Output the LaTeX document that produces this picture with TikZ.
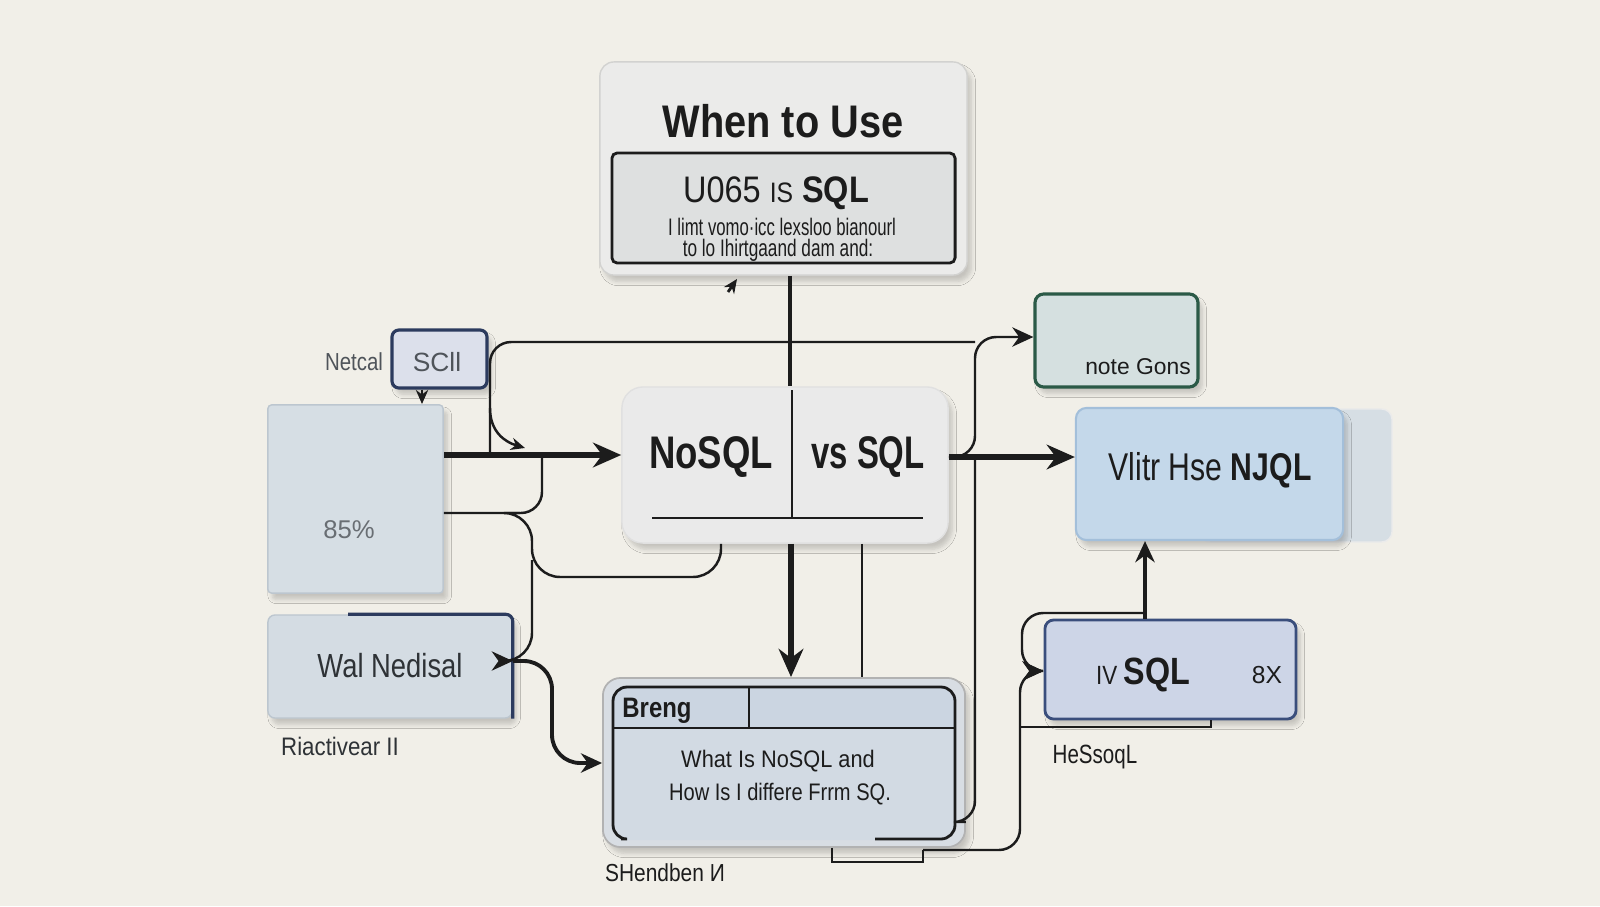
\documentclass[tikz,border=0pt]{standalone}
\usepackage{fontspec}
\setmainfont{Liberation Sans}
\usetikzlibrary{arrows.meta,shadows.blur}
\definecolor{bg}{HTML}{F1EFE8}
\definecolor{lc}{HTML}{1C1C1C}
\definecolor{topfill}{HTML}{EBEBEA}
\definecolor{topedge}{HTML}{D2D2D0}
\definecolor{topin}{HTML}{DEE0E0}
\definecolor{midfill}{HTML}{EAEAEA}
\definecolor{scllfill}{HTML}{DCE0EB}
\definecolor{navy}{HTML}{2C3B5E}
\definecolor{bfill}{HTML}{D6DEE4}
\definecolor{bedge}{HTML}{BCC6CF}
\definecolor{walfill}{HTML}{D4DCE3}
\definecolor{botfill}{HTML}{D8DDE3}
\definecolor{botin}{HTML}{D2DAE3}
\definecolor{bothead}{HTML}{CBD5E1}
\definecolor{ngfill}{HTML}{D5E0E0}
\definecolor{ngedge}{HTML}{2B5A47}
\definecolor{vfill}{HTML}{C4D8EA}
\definecolor{vedge}{HTML}{A3BFDA}
\definecolor{vback}{HTML}{D6DEE4}
\definecolor{ivfill}{HTML}{CDD5E7}
\definecolor{ivedge}{HTML}{3A4E7C}
\definecolor{gtext}{HTML}{4F545A}
\definecolor{dtext}{HTML}{2E3236}
\newcommand\myfs[1]{\fontsize{#1}{#1}\selectfont}
\newcommand\hsq[2]{\scalebox{#1}[1]{#2}}
\begin{document}
\begin{tikzpicture}[x=0.01cm,y=-0.01cm,
  box/.style={inner sep=0pt, blur shadow={shadow xshift=1.2pt, shadow yshift=-1.8pt, shadow opacity=18, shadow blur radius=1.2pt, shadow blur steps=6}},
  txt/.style={inner sep=0pt, text=lc, anchor=base},
  thinc/.style={draw=lc, line width=0.7pt},
  medc/.style={draw=lc, line width=1.1pt},
  thickc/.style={draw=lc, line width=1.7pt},
  ahd/.style={-{Stealth[length=6pt,width=5.5pt]}},
  ahs/.style={-{Stealth[length=4pt,width=3.5pt]}},
  ahb/.style={-{Stealth[length=8pt,width=7pt]}},
]
\useasboundingbox[fill=bg] (0,0) rectangle (1600,906);

% ---------- top box
\node[box, draw=topedge, fill=topfill, rounded corners=4pt, line width=0.4pt, minimum width=3.67cm, minimum height=2.13cm] (top) at (783.5,168.5) {};
\node[draw=lc, line width=0.8pt, fill=topin, rounded corners=1.5pt, inner sep=0pt, minimum width=3.43cm, minimum height=1.10cm] (topin) at (783.5,208) {};
\node[txt, font=\myfs{13}\bfseries] (title) at (783,137) {\hsq{0.87}{When to Use}};
\node[txt, font=\myfs{10.5}] (topsub) at (776,202) {\hsq{0.88}{U065 {\myfs{8}IS} \textbf{SQL}}};
\node[txt, font=\myfs{6.8}] (tl1) at (782,235) {\hsq{0.7}{I limt vomo·icc lexsloo bianourl}};
\node[txt, font=\myfs{6.8}] (tl2) at (778,256) {\hsq{0.72}{to lo Ihirtgaand dam and:}};

% ---------- centre box
\node[box, draw=black!12, fill=midfill, rounded corners=6pt, minimum width=3.26cm, minimum height=1.56cm] (mid) at (785,465) {};
\draw[lc, line width=0.7pt] (792,390) -- (792,518);
\draw[lc, line width=0.7pt] (652,518) -- (923,518);
\node[txt, font=\myfs{13}\bfseries] (nosql) at (711,468) {\hsq{0.8}{NoSQL}};
\node[txt, font=\myfs{13}\bfseries] (vssql) at (868,468) {\hsq{0.72}{vs SQL}};

% ---------- left side
\node[box, draw=navy, line width=0.9pt, fill=scllfill, rounded corners=2pt, minimum width=0.95cm, minimum height=0.58cm] (scll) at (439.5,359) {};
\node[txt, font=\myfs{7.5}, text=gtext] (scllt) at (437,371) {SCll};
\node[txt, font=\myfs{7}, text=gtext] (netcal) at (354,370) {\hsq{0.83}{Netcal}};

\node[box, draw=bedge, line width=0.4pt, fill=bfill, rounded corners=1pt, minimum width=1.75cm, minimum height=1.88cm] (b85) at (355.5,499) {};
\node[txt, font=\myfs{7.3}, text=gtext!85] (p85) at (349,538) {85\%};

\node[box, draw=bedge, line width=0.4pt, fill=walfill, rounded corners=2pt, minimum width=2.44cm, minimum height=1.03cm] (wal) at (390,666.5) {};
\draw[navy, line width=0.9pt, rounded corners=2pt] (wal.north -| 348,0) -- (wal.north east) -- (wal.south east);
\node[txt, font=\myfs{9.5}, text=dtext] (walt) at (390,677) {\hsq{0.82}{Wal Nedisal}};
\node[txt, font=\myfs{7.2}, text=dtext] (riact) at (340,755) {\hsq{0.88}{Riactivear II}};

% ---------- bottom box
\node[box, draw=black!30, line width=0.5pt, fill=botfill, rounded corners=5pt, minimum width=3.62cm, minimum height=1.69cm] (bot) at (784,762.5) {};
\fill[botin, rounded corners=4pt] (613,687) rectangle (955,840);
\fill[bothead, rounded corners=4pt] (613,687) rectangle (955,728);
\fill[bothead] (613,715) rectangle (955,728);
\draw[lc, line width=0.8pt, rounded corners=4pt] (875,839) -- (955,839) -- (955,687) -- (613,687) -- (613,839) -- (621,839);
\draw[lc, line width=0.8pt] (613,728) -- (955,728);
\draw[lc, line width=0.8pt] (749,687) -- (749,728);
\node[txt, font=\myfs{8}\bfseries] (breng) at (657,717) {\hsq{0.85}{Breng}};
\node[txt, font=\myfs{6.8}] (bt1) at (778,767) {\hsq{0.91}{What Is NoSQL and}};
\node[txt, font=\myfs{6.8}] (bt2) at (780,800) {\hsq{0.84}{How Is I differe Frrm SQ.}};
\node[txt, font=\myfs{7}] (shend) at (665,881) {\hsq{0.85}{SHendben И}};

% ---------- right side
\node[box, draw=ngedge, line width=0.9pt, fill=ngfill, rounded corners=2.5pt, minimum width=1.63cm, minimum height=0.93cm] (noteg) at (1116.5,340.5) {};
\node[txt, font=\myfs{6.5}] (ngt) at (1138,374) {note Gons};

\node[fill=vback, draw=black!8, inner sep=0pt, rounded corners=3pt, minimum width=1.92cm, minimum height=1.33cm] (vbk) at (1296,475.5) {};
\node[box, draw=vedge, line width=0.6pt, fill=vfill, rounded corners=3pt, minimum width=2.67cm, minimum height=1.32cm] (vlitr) at (1209.5,474) {};
\node[txt, font=\myfs{11}] (vt) at (1210,480) {\hsq{0.78}{Vlitr Hse \textbf{NJQL}}};

\node[box, draw=ivedge, line width=0.8pt, fill=ivfill, rounded corners=2.5pt, minimum width=2.51cm, minimum height=0.99cm] (ivsql) at (1170.5,669.5) {};
\node[txt, font=\myfs{10.8}\bfseries] (ivt) at (1143,684) {\hsq{0.85}{{\mdseries\myfs{7.5}IV }SQL}};
\node[txt, font=\myfs{7}] (p8) at (1267,683) {8X};
\node[txt, font=\myfs{7.5}] (hes) at (1095,763) {\hsq{0.78}{HeSsoqL}};

% ---------- connectors
\coordinate (tinyA) at (728,292);
\coordinate (tinyB) at (737,279);
\draw[lc, line width=0.8pt, ahs] (tinyA) -- (tinyB);
\draw[lc, line width=1pt] (top.south -| 790,0) -- (mid.north -| 790,0);

\draw[thinc, rounded corners=6pt] (490,455) |- (975,342);
\draw[thinc, rounded corners=6pt, ahd] (mid.east |- 0,457) -| (975,337) -- (noteg.west |- 0,337);
\draw[thinc, rounded corners=6pt] (975,457) |- (bot.east |- 0,822);

\draw[thickc, ahb] (b85.east |- 0,455) -- (mid.west |- 0,455);
\draw[thickc, ahb] (mid.east |- 0,457) -- (vlitr.west |- 0,457);
\draw[thickc, ahb] (mid.south -| 791,0) -- (bot.north -| 791,0);
\draw[thinc] (mid.south -| 862,0) -- (bot.north -| 862,0);

\draw[thinc, ahs] (490,408) .. controls (490,432) and (505,442) .. (525,448);
\draw[thinc, ahs] (scll.south -| 422,0) -- (422,404);

\draw[thinc, rounded corners=6pt] (b85.east |- 0,513) -| (542,455);
\draw[thinc, rounded corners=8pt] (520,513) -| (532,577) -| (mid.south -| 721,0);
\draw[thinc, rounded corners=8pt, ahd] (532,560) |- (wal.east |- 0,661);
\draw[medc, rounded corners=8pt, ahd] (wal.east |- 0,661) -| (552,763) -- (bot.west |- 0,763);

\draw[thinc] (bot.south -| 832,0) |- (923,862) -- (923,850);
\draw[thinc, rounded corners=6pt, ahd] (923,850) -| (1020,671) -- (ivsql.west |- 0,671);
\draw[thinc, rounded corners=6pt, ahd] (1145,613) -| (1022,671) -- (ivsql.west |- 0,671);
\draw[medc, ahd] (ivsql.north -| 1145,0) -- (vlitr.south -| 1145,0);
\draw[thinc] (1020,727) -| (ivsql.south -| 1211,0);
\end{tikzpicture}
\end{document}
